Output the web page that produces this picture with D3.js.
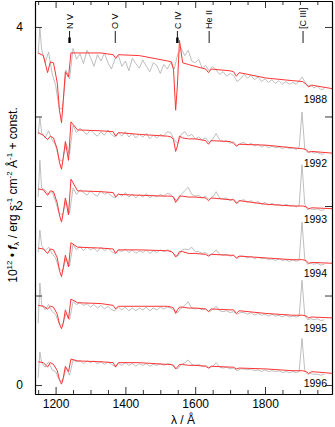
<!DOCTYPE html>
<html>
<head>
<meta charset="utf-8">
<script src="https://cdn.jsdelivr.net/npm/d3@7"></script>
<style>
body { margin: 0; background: #fff; }
svg { font-family: "Liberation Sans", Arial, sans-serif; }
</style>
</head>
<body>
<div id="chart-area"></div>
<script>

// years, and the constant added to each spectrum
var years = ["1988", "1992", "1993", "1994", "1995", "1996"];
var offsets = [2.9, 2.4, 1.8, 1.2, 0.6, 0.0];

// line identifications along the top
var lineNames = ["N V", "O V", "C IV", "He II", "[C III]"];
var lineWaves = [1240, 1371, 1549, 1640, 1909];
var lineDoublet = [true, false, true, false, false];

// model (red) wavelength grid
var modelWave = [1150, 1165, 1177, 1185, 1194, 1205, 1211, 1217, 1222, 1228,
                 1237, 1244, 1263, 1330, 1365, 1372, 1380, 1440, 1521, 1532,
                 1538, 1544, 1549, 1555, 1564, 1581, 1600, 1630, 1638, 1646,
                 1700, 1710, 1718, 1726, 1802, 1880, 1908, 1918, 1925, 1934,
                 1994];

var model1988 = [0.81, 0.78, 0.59, 0.71, 0.70, 0.47, 0.17, 0.03, 0.28, 0.60,
                 0.54, 0.81, 0.81, 0.81, 0.79, 0.75, 0.79, 0.78, 0.72, 0.71,
                 0.62, 0.17, 0.45, 0.95, 0.70, 0.68, 0.66, 0.63, 0.59, 0.63,
                 0.61, 0.60, 0.55, 0.59, 0.53, 0.50, 0.49, 0.46, 0.43, 0.45,
                 0.41];
var model1992 = [0.42, 0.39, 0.34, 0.38, 0.36, 0.23, 0.09, 0.01, 0.14, 0.32,
                 0.11, 0.54, 0.45, 0.44, 0.43, 0.38, 0.42, 0.40, 0.38, 0.37,
                 0.34, 0.21, 0.27, 0.38, 0.36, 0.35, 0.35, 0.33, 0.29, 0.33,
                 0.32, 0.30, 0.27, 0.29, 0.28, 0.25, 0.24, 0.23, 0.20, 0.21,
                 0.19];
var model1993 = [0.39, 0.38, 0.32, 0.37, 0.36, 0.23, 0.10, 0.02, 0.13, 0.29,
                 0.10, 0.50, 0.37, 0.36, 0.35, 0.30, 0.33, 0.32, 0.31, 0.31,
                 0.30, 0.24, 0.27, 0.31, 0.31, 0.30, 0.30, 0.29, 0.26, 0.29,
                 0.27, 0.27, 0.23, 0.26, 0.22, 0.20, 0.20, 0.19, 0.17, 0.18,
                 0.17];
var model1994 = [0.33, 0.32, 0.27, 0.32, 0.31, 0.22, 0.08, 0.01, 0.11, 0.25,
                 0.12, 0.39, 0.34, 0.33, 0.32, 0.27, 0.31, 0.31, 0.30, 0.29,
                 0.27, 0.23, 0.25, 0.29, 0.29, 0.27, 0.27, 0.26, 0.24, 0.26,
                 0.25, 0.25, 0.22, 0.24, 0.22, 0.20, 0.20, 0.19, 0.16, 0.17,
                 0.16];
var model1995 = [0.29, 0.28, 0.25, 0.28, 0.27, 0.19, 0.08, 0.03, 0.09, 0.24,
                 0.14, 0.36, 0.32, 0.31, 0.29, 0.25, 0.28, 0.28, 0.28, 0.27,
                 0.26, 0.20, 0.24, 0.27, 0.27, 0.26, 0.26, 0.25, 0.22, 0.25,
                 0.24, 0.24, 0.20, 0.23, 0.20, 0.18, 0.18, 0.17, 0.15, 0.16,
                 0.15];
var model1996 = [0.26, 0.25, 0.20, 0.25, 0.23, 0.16, 0.06, 0.01, 0.08, 0.21,
                 0.15, 0.29, 0.27, 0.26, 0.25, 0.20, 0.25, 0.25, 0.23, 0.23,
                 0.22, 0.18, 0.20, 0.23, 0.23, 0.22, 0.22, 0.21, 0.19, 0.21,
                 0.20, 0.20, 0.18, 0.19, 0.18, 0.16, 0.16, 0.15, 0.13, 0.15,
                 0.13];

// observed (grey) wavelength grid
var obsWave = [1150, 1155, 1160, 1170, 1180, 1190, 1200, 1210, 1220, 1230,
               1240, 1250, 1260, 1270, 1280, 1290, 1300, 1310, 1320, 1330,
               1340, 1350, 1360, 1370, 1380, 1390, 1400, 1410, 1420, 1430,
               1440, 1450, 1460, 1470, 1480, 1490, 1500, 1510, 1520, 1530,
               1540, 1550, 1560, 1570, 1580, 1590, 1600, 1610, 1620, 1630,
               1640, 1650, 1660, 1670, 1680, 1690, 1700, 1710, 1720, 1730,
               1740, 1750, 1760, 1770, 1780, 1790, 1800, 1810, 1820, 1830,
               1840, 1850, 1860, 1870, 1880, 1890, 1898, 1906, 1914, 1922,
               1930, 1940, 1950, 1960, 1970];

var obs1988 = [0.80, 1.09, 0.85, 0.70, 0.82, 0.58, 0.45, 0.20, 0.18, 0.62,
               0.52, 0.86, 0.74, 0.80, 0.69, 0.84, 0.76, 0.66, 0.79, 0.72,
               0.81, 0.70, 0.63, 0.74, 0.78, 0.66, 0.72, 0.61, 0.75, 0.69,
               0.64, 0.73, 0.66, 0.60, 0.70, 0.67, 0.58, 0.68, 0.63, 0.70,
               0.63, 0.80, 0.86, 0.78, 0.84, 0.72, 0.70, 0.74, 0.64, 0.67,
               0.61, 0.66, 0.62, 0.57, 0.60, 0.55, 0.58, 0.56, 0.49, 0.52,
               0.57, 0.53, 0.56, 0.51, 0.54, 0.49, 0.52, 0.48, 0.51, 0.47,
               0.50, 0.46, 0.49, 0.46, 0.48, 0.46, 0.50, 0.54, 0.49, 0.44,
               0.45, 0.42, 0.44, 0.40, 0.41];
var obs1992 = [0.40, 0.59, 0.42, 0.36, 0.44, 0.34, 0.28, 0.12, 0.10, 0.30,
               0.18, 0.50, 0.42, 0.47, 0.43, 0.40, 0.45, 0.41, 0.38, 0.43,
               0.39, 0.45, 0.40, 0.37, 0.42, 0.38, 0.43, 0.37, 0.41, 0.36,
               0.40, 0.37, 0.41, 0.35, 0.39, 0.36, 0.40, 0.38, 0.43, 0.42,
               0.34, 0.30, 0.40, 0.43, 0.38, 0.40, 0.35, 0.37, 0.34, 0.36,
               0.31, 0.35, 0.41, 0.34, 0.32, 0.33, 0.30, 0.32, 0.27, 0.30,
               0.31, 0.28, 0.30, 0.27, 0.29, 0.26, 0.28, 0.25, 0.27, 0.25,
               0.26, 0.24, 0.26, 0.24, 0.25, 0.23, 0.26, 0.65, 0.24, 0.20,
               0.21, 0.19, 0.20, 0.18, 0.18];
var obs1993 = [0.30, 0.71, 0.40, 0.38, 0.33, 0.36, 0.25, 0.12, 0.10, 0.26,
               0.12, 0.40, 0.33, 0.38, 0.35, 0.32, 0.37, 0.33, 0.31, 0.37,
               0.33, 0.35, 0.31, 0.29, 0.34, 0.31, 0.35, 0.30, 0.33, 0.29,
               0.33, 0.30, 0.34, 0.29, 0.32, 0.30, 0.33, 0.31, 0.34, 0.33,
               0.28, 0.26, 0.33, 0.37, 0.41, 0.33, 0.31, 0.32, 0.29, 0.31,
               0.27, 0.30, 0.36, 0.29, 0.28, 0.29, 0.26, 0.28, 0.23, 0.26,
               0.27, 0.24, 0.26, 0.23, 0.25, 0.22, 0.24, 0.21, 0.23, 0.21,
               0.22, 0.20, 0.22, 0.20, 0.21, 0.19, 0.21, 0.66, 0.22, 0.16,
               0.17, 0.16, 0.17, 0.15, 0.16];
var obs1994 = [0.28, 0.53, 0.36, 0.30, 0.34, 0.27, 0.22, 0.10, 0.07, 0.22,
               0.13, 0.37, 0.31, 0.35, 0.30, 0.34, 0.31, 0.33, 0.29, 0.34,
               0.30, 0.33, 0.29, 0.27, 0.31, 0.29, 0.32, 0.28, 0.31, 0.27,
               0.30, 0.28, 0.31, 0.27, 0.30, 0.28, 0.31, 0.29, 0.31, 0.30,
               0.26, 0.24, 0.30, 0.32, 0.31, 0.34, 0.29, 0.29, 0.27, 0.28,
               0.25, 0.27, 0.31, 0.26, 0.25, 0.26, 0.24, 0.25, 0.21, 0.24,
               0.24, 0.22, 0.24, 0.21, 0.23, 0.21, 0.22, 0.20, 0.21, 0.19,
               0.21, 0.19, 0.20, 0.18, 0.20, 0.18, 0.20, 0.62, 0.21, 0.15,
               0.16, 0.15, 0.16, 0.14, 0.15];
var obs1995 = [0.09, 0.54, 0.30, 0.24, 0.30, 0.22, 0.19, 0.09, 0.07, 0.20,
               0.13, 0.33, 0.30, 0.32, 0.29, 0.31, 0.27, 0.30, 0.26, 0.29,
               0.25, 0.28, 0.24, 0.23, 0.27, 0.24, 0.27, 0.23, 0.26, 0.23,
               0.26, 0.24, 0.27, 0.23, 0.26, 0.24, 0.27, 0.25, 0.27, 0.26,
               0.23, 0.21, 0.26, 0.29, 0.33, 0.26, 0.25, 0.26, 0.24, 0.25,
               0.22, 0.24, 0.28, 0.23, 0.22, 0.23, 0.21, 0.22, 0.19, 0.21,
               0.21, 0.19, 0.21, 0.18, 0.20, 0.18, 0.19, 0.17, 0.19, 0.17,
               0.18, 0.16, 0.18, 0.16, 0.17, 0.16, 0.17, 0.57, 0.18, 0.13,
               0.14, 0.13, 0.14, 0.12, 0.13];
var obs1996 = [0.08, 0.37, 0.25, 0.20, 0.26, 0.17, 0.15, 0.06, 0.04, 0.19,
               0.11, 0.28, 0.26, 0.27, 0.24, 0.27, 0.25, 0.27, 0.24, 0.26,
               0.23, 0.26, 0.23, 0.21, 0.24, 0.22, 0.25, 0.22, 0.24, 0.21,
               0.24, 0.22, 0.24, 0.21, 0.23, 0.22, 0.24, 0.22, 0.24, 0.23,
               0.20, 0.18, 0.23, 0.25, 0.28, 0.23, 0.22, 0.23, 0.21, 0.22,
               0.19, 0.21, 0.25, 0.20, 0.19, 0.20, 0.18, 0.19, 0.16, 0.18,
               0.18, 0.17, 0.18, 0.16, 0.17, 0.15, 0.17, 0.15, 0.16, 0.15,
               0.16, 0.14, 0.15, 0.14, 0.15, 0.14, 0.15, 0.52, 0.16, 0.12,
               0.13, 0.12, 0.12, 0.11, 0.12];

var models = [model1988, model1992, model1993, model1994, model1995, model1996];
var observed = [obs1988, obs1992, obs1993, obs1994, obs1995, obs1996];

var xMajor = [1200, 1400, 1600, 1800];
var xMinor = [1150, 1250, 1300, 1350, 1450, 1500, 1550, 1650, 1700, 1750, 1850, 1900, 1950];
var yTicks = [0, 1, 2, 3, 4];
var yLabels = [0, 2, 4];

var width = 335, height = 427;
var plotLeft = 35, plotRight = 332, plotTop = 1, plotBottom = 394;

var svg = d3.select("#chart-area").append("svg")
    .attr("width", width)
    .attr("height", height);

var x = d3.scaleLinear().domain([1141, 1992]).range([plotLeft, plotRight]);
var y = d3.scaleLinear().domain([-0.1, 4.29]).range([plotBottom, plotTop]);

svg.append("clipPath").attr("id", "plot-clip")
  .append("rect")
    .attr("x", plotLeft).attr("y", plotTop)
    .attr("width", plotRight - plotLeft).attr("height", plotBottom - plotTop);

var spectra = years.map(function(yr, i){
    return {
        year: yr,
        offset: offsets[i],
        model: modelWave.map(function(w, j){ return [w, models[i][j]]; }),
        obs: obsWave.map(function(w, j){ return [w, observed[i][j]]; })
    };
});

function lineFor(offset){
    return d3.line()
        .x(function(d){ return x(d[0]); })
        .y(function(d){ return y(d[1] + offset); });
}

var plot = svg.append("g").attr("clip-path", "url(#plot-clip)");

// observed spectra in grey
plot.selectAll("path.obs")
    .data(spectra)
  .enter().append("path")
    .attr("class", "obs")
    .attr("fill", "none")
    .attr("stroke", "#adadad")
    .attr("stroke-width", 0.8)
    .attr("d", function(d){ return lineFor(d.offset)(d.obs); });

// models in red
plot.selectAll("path.model")
    .data(spectra)
  .enter().append("path")
    .attr("class", "model")
    .attr("fill", "none")
    .attr("stroke", "#ff3434")
    .attr("stroke-width", 1)
    .attr("d", function(d){ return lineFor(d.offset)(d.model); });

// year labels under the right end of each spectrum
svg.selectAll("text.year")
    .data(spectra)
  .enter().append("text")
    .attr("class", "year")
    .attr("x", 327)
    .attr("y", function(d){
        return y(d.model[d.model.length - 1][1] + d.offset) + 14;
    })
    .attr("text-anchor", "end")
    .style("font-size", "10.5px")
    .text(function(d){ return d.year; });

// axes, ticks point inwards
function styleAxis(g){
    g.selectAll(".domain").attr("stroke", "#000").attr("stroke-width", 1.2);
    g.selectAll(".tick line").attr("stroke", "#000").attr("stroke-width", 0.8);
    g.selectAll("text").style("font-size", "12px").attr("fill", "#000")
        .style("font-family", "'Liberation Sans', Arial, sans-serif");
}

svg.append("g")
    .attr("transform", "translate(0," + plotBottom + ")")
    .call(d3.axisBottom(x).tickValues(xMajor).tickSizeInner(-7).tickSizeOuter(0).tickPadding(5.5).tickFormat(d3.format("d")))
    .call(styleAxis);
svg.append("g")
    .attr("transform", "translate(0," + plotBottom + ")")
    .call(d3.axisBottom(x).tickValues(xMinor).tickSizeInner(-4).tickSizeOuter(0).tickFormat(""))
    .call(styleAxis);
svg.append("g")
    .attr("transform", "translate(0," + plotTop + ")")
    .call(d3.axisTop(x).tickValues(xMajor).tickSizeInner(-7).tickSizeOuter(0).tickFormat(""))
    .call(styleAxis);
svg.append("g")
    .attr("transform", "translate(0," + plotTop + ")")
    .call(d3.axisTop(x).tickValues(xMinor).tickSizeInner(-4).tickSizeOuter(0).tickFormat(""))
    .call(styleAxis);
svg.append("g")
    .attr("transform", "translate(" + plotLeft + ",0)")
    .call(d3.axisLeft(y).tickValues(yTicks).tickSizeInner(-7).tickSizeOuter(0).tickPadding(12)
        .tickFormat(function(d){ return yLabels.indexOf(d) >= 0 ? d : ""; }))
    .call(styleAxis);
svg.append("g")
    .attr("transform", "translate(" + plotRight + ",0)")
    .call(d3.axisRight(y).tickValues(yTicks).tickSizeInner(-7).tickSizeOuter(0).tickFormat(""))
    .call(styleAxis);

// line identifications
var ids = svg.selectAll("g.lineid")
    .data(lineNames)
  .enter().append("g")
    .attr("class", "lineid")
    .attr("transform", function(d, i){ return "translate(" + x(lineWaves[i]) + ",0)"; });
ids.append("line")
    .attr("x1", 0).attr("x2", 0)
    .attr("y1", 31).attr("y2", 43)
    .attr("stroke", "#000").attr("stroke-width", 0.9);
ids.filter(function(d, i){ return lineDoublet[i]; })
  .append("rect")
    .attr("x", -1.2).attr("y", 37.5)
    .attr("width", 2.4).attr("height", 5.5)
    .attr("fill", "#000");
ids.append("text")
    .attr("transform", "translate(3.2,29) rotate(-90)")
    .attr("text-anchor", "start")
    .style("font-size", "9px")
    .text(function(d){ return d; });

// axis titles
svg.append("text")
    .attr("x", 183)
    .attr("y", 424)
    .attr("text-anchor", "middle")
    .style("font-size", "12px")
    .text("λ / Å");

var ylab = svg.append("text")
    .attr("transform", "translate(16.5,195) rotate(-90)")
    .attr("text-anchor", "middle")
    .style("font-size", "12px");

var parts = [
    ["10", 0], ["12", 1], [" \u2022 ", 0], ["f", 3], ["\u03bb", 2],
    [" / erg s", 0], ["-1", 1], [" cm", 0], ["-2", 1], [" \u00c5", 0], ["-1", 1], [" + const.", 0]
];
var shift = 0;
parts.forEach(function(p){
    var want = p[1] === 1 ? -4.5 : (p[1] === 2 ? 2.5 : 0);
    var t = ylab.append("tspan").attr("dy", want - shift).text(p[0]);
    shift = want;
    if (p[1] === 1 || p[1] === 2){ t.style("font-size", "8px"); }
    if (p[1] === 3){ t.style("font-style", "italic").style("font-weight", "bold"); }
});

</script>
</body>
</html>
